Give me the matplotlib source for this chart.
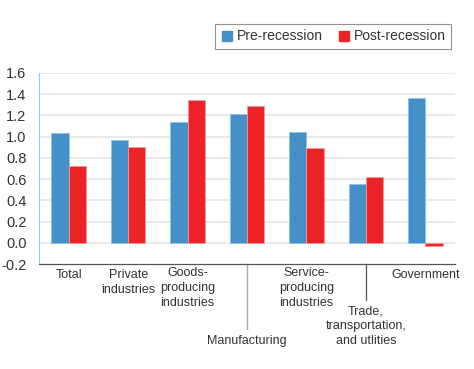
import matplotlib
matplotlib.use("Agg")
import matplotlib.pyplot as plt
from matplotlib.lines import Line2D
import numpy as np

categories = ["Total", "Private\nindustries", "Goods-\nproducing\nindustries", "Manufacturing",
              "Service-\nproducing\nindustries", "Trade,\ntransportation,\nand utlities", "Government"]
pre = [1.03, 0.97, 1.14, 1.21, 1.04, 0.55, 1.36]
post = [0.72, 0.90, 1.35, 1.29, 0.89, 0.62, -0.03]
yticks = [-0.2, 0.0, 0.2, 0.4, 0.6, 0.8, 1.0, 1.2, 1.4, 1.6]

blue = "#4690c8"
red = "#ee2326"
plt.rcParams['font.family'] = ['Liberation Sans', 'DejaVu Sans']

fig = plt.figure(figsize=(4.74, 3.69), dpi=100)
ax = fig.add_axes([39/474, 1-264/369, (455-39)/474, (264-73)/369])
x = np.arange(len(categories))
w = 0.29
ax.bar(x - w/2, pre, w, color=blue, edgecolor="#8cc4ec", linewidth=0.6, zorder=3)
ax.bar(x + w/2, post, w, color=red, edgecolor="#f79a9a", linewidth=0.6, zorder=3)
ax.set_xlim(-0.5, len(categories) - 0.5)
ax.set_ylim(-0.2, 1.6)
ax.set_yticks(yticks)
ax.set_yticklabels([f"{v:.1f}" for v in yticks], fontsize=10.5, color="#333333")
ax.tick_params(axis='y', length=0, pad=9)
ax.set_xticks([])
for v in yticks[1:]:
    ax.axhline(v, color="#e6e6e6", linewidth=1.2, zorder=1)
for s in ["top", "right"]:
    ax.spines[s].set_visible(False)
ax.spines["left"].set_color("#9cc8e6")
ax.spines["bottom"].set_color("#555555")
ax.spines["bottom"].set_linewidth(0.9)

# label offsets (in points below axis) per category
offsets = [3.5, 3.5, 2.5, 51, 2.5, 30, 3.5]
for i, (lab, off) in enumerate(zip(categories, offsets)):
    ax.annotate(lab, xy=(i, 0), xycoords=('data', 'axes fraction'),
                xytext=(0, -off), textcoords='offset points',
                ha='center', va='top', fontsize=9, color="#333333",
                linespacing=1.3)
# leader lines
ax.plot([3, 3], [0, -0.34], transform=ax.get_xaxis_transform(), color="#aaaaaa",
        linewidth=1, clip_on=False)
ax.plot([5, 5], [0, -0.19], transform=ax.get_xaxis_transform(), color="#555555",
        linewidth=0.9, clip_on=False)

handles = [Line2D([], [], marker='s', linestyle='none', color=blue, markersize=7),
           Line2D([], [], marker='s', linestyle='none', color=red, markersize=7)]
leg = fig.legend(handles, ["Pre-recession", "Post-recession"], loc='upper right',
                 bbox_to_anchor=(458/474, 1-17/369), ncol=2, fontsize=10,
                 frameon=True, fancybox=False, edgecolor="#777777",
                 handletextpad=0.2, columnspacing=1.0, handlelength=1.0,
                 borderpad=0.4)
leg.get_frame().set_linewidth(0.8)
for t in leg.get_texts():
    t.set_color("#333333")

fig.savefig("out.png", dpi=100)
